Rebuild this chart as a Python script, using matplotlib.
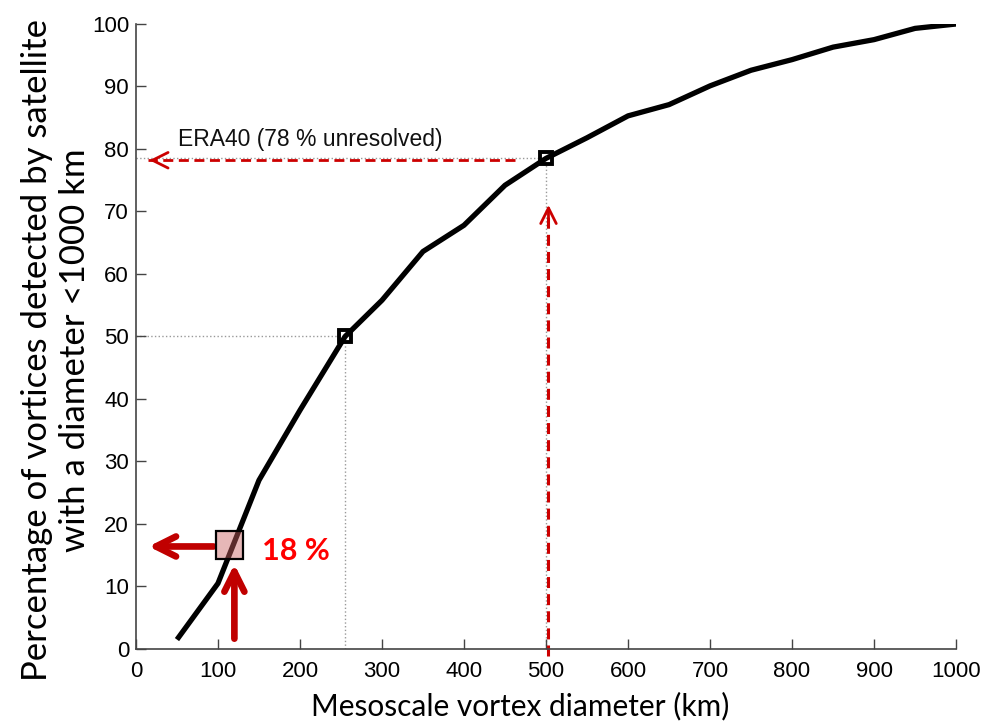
"""Cumulative distribution of mesoscale vortex diameters (satellite detections)."""

import matplotlib
matplotlib.use("Agg")
import matplotlib.pyplot as plt
from matplotlib.patches import Rectangle

# cumulative percentage of vortices < 1000 km
diameter_km = [50, 100, 150, 200, 255, 300, 350, 400, 450, 500,
               550, 600, 650, 700, 750, 800, 850, 900, 950, 1000]
cum_percent = [1.5, 10.5, 27.0, 38.2, 50.0, 55.8, 63.6, 67.8, 74.2, 78.5,
               81.8, 85.3, 87.1, 90.1, 92.6, 94.3, 96.3, 97.5, 99.3, 100.0]

marker_x = [255, 500]
marker_y = [50.0, 78.5]

era40_x = 500
era40_y = 78.5
era40_text = "ERA40 (78 % unresolved)"

sat_x = 114
sat_y = 16.6
sat_text = "18 %"

xticks = list(range(0, 1001, 100))
yticks = list(range(0, 101, 10))

RED_DASH = "#cc0000"
RED_DARK = "#c00000"
AXCOL = "#444444"
DASH = (0, (3.6, 2.0))

fig = plt.figure(figsize=(9.81, 7.23), dpi=100)
ax = fig.add_axes([0.1386, 0.1024, 0.836, 0.8644])

# guide lines (gray dotted)
for mx, my in zip(marker_x, marker_y):
    ax.plot([0, mx], [my, my], ls=":", color="#999999", lw=1.0, zorder=1)
    ax.plot([mx, mx], [0, my], ls=":", color="#999999", lw=1.0, zorder=1)

ax.plot(diameter_km, cum_percent, color="black", lw=3.8, zorder=3,
        solid_capstyle="butt")
ax.plot(marker_x, marker_y, ls="none", marker="s", ms=9, mfc="none",
        mec="black", mew=2.8, zorder=4)

# ERA40 dashed arrows
ax.plot([462, 15], [era40_y - 0.3, era40_y - 0.3], ls=DASH, color=RED_DASH,
        lw=2.0, zorder=2)
ax.annotate("", xy=(13, era40_y - 0.3), xytext=(28, era40_y - 0.3),
            arrowprops=dict(arrowstyle="->", color=RED_DASH, lw=2.0,
                            mutation_scale=28), zorder=2)
ax.plot([era40_x + 3, era40_x + 3], [-1.2, 70], ls=DASH, color=RED_DASH,
        lw=2.2, zorder=2, clip_on=False)
ax.annotate("", xy=(era40_x + 3, 71.5), xytext=(era40_x + 3, 68),
            arrowprops=dict(arrowstyle="->", color=RED_DASH, lw=2.0,
                            mutation_scale=28), zorder=2)
ax.text(51, 80.5, era40_text, fontsize=16.5, family="Liberation Sans",
        va="baseline", ha="left", color="#111111")

# satellite 18 % marker and arrows
ax.add_patch(Rectangle((sat_x - 16, sat_y - 2.25), 32, 4.5, facecolor="#c86060",
                       alpha=0.45, edgecolor="none", zorder=5))
ax.add_patch(Rectangle((sat_x - 16, sat_y - 2.25), 32, 4.5, facecolor="none",
                       edgecolor="black", lw=1.6, zorder=6))
ax.annotate("", xy=(12, sat_y - 0.2), xytext=(sat_x - 16, sat_y - 0.2),
            arrowprops=dict(arrowstyle="->", color=RED_DARK, lw=4.8,
                            mutation_scale=36), zorder=5)
ax.annotate("", xy=(sat_x + 6, sat_y - 2.6), xytext=(sat_x + 6, 1.2),
            arrowprops=dict(arrowstyle="->", color=RED_DARK, lw=4.8,
                            mutation_scale=36), zorder=5)
ax.text(sat_x + 40, sat_y - 0.9, sat_text, fontsize=22, family="Lato",
        fontweight="bold", color="#ff0000", va="center", ha="left")

ax.set_xlim(0, 1000)
ax.set_ylim(0, 100)
ax.set_xticks(xticks)
ax.set_yticks(yticks)
ax.tick_params(direction="in", length=7, width=1.0, color=AXCOL, labelsize=16)
ax.tick_params(axis="x", pad=9)
ax.tick_params(axis="y", pad=5)
for lab in ax.get_xticklabels() + ax.get_yticklabels():
    lab.set_family("Liberation Sans")
for side in ("top", "right"):
    ax.spines[side].set_visible(False)
for side in ("left", "bottom"):
    ax.spines[side].set_color(AXCOL)
    ax.spines[side].set_linewidth(1.2)

fig.text(0.530, 0.010, "Mesoscale vortex diameter (km)", fontsize=21.5,
         family="Lato", ha="center", va="baseline")
fig.text(0.057, 0.516, "Percentage of vortices detected by satellite\n"
         "with a diameter <1000 km", rotation=90, fontsize=25, family="Lato",
         ha="center", va="center", multialignment="center", linespacing=1.2)

fig.savefig("out.png", dpi=100, facecolor="white")
